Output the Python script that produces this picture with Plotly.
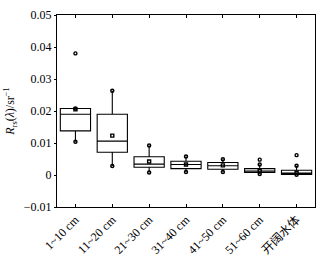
import plotly.graph_objects as go

categories = ["1~10 cm", "11~20 cm", "21~30 cm", "31~40 cm", "41~50 cm", "51~60 cm", "开阔水体"]
q1 = [0.0138, 0.0071, 0.0024, 0.0020, 0.0018, 0.0008, 0.0002]
median = [0.0190, 0.0106, 0.0034, 0.0033, 0.0029, 0.0012, 0.0006]
q3 = [0.0208, 0.0190, 0.0057, 0.0043, 0.0039, 0.0020, 0.0015]
lower = [0.0104, 0.0028, 0.0008, 0.0009, 0.0009, 0.0003, 0.0001]
upper = [0.0208, 0.0263, 0.0092, 0.0058, 0.0049, 0.0033, 0.0029]
means = [0.0205, 0.0123, 0.0042, 0.0033, 0.0030, 0.0013, 0.0007]
outlier_cat = ["1~10 cm", "51~60 cm", "开阔水体"]
outlier_val = [0.0380, 0.0048, 0.0062]

ytickvals = [-0.01, 0, 0.01, 0.02, 0.03, 0.04, 0.05]
yticktext = ["\u22120.01", "0", "0.01", "0.02", "0.03", "0.04", "0.05"]

font_family = "Liberation Serif, Times New Roman, Noto Sans CJK SC, serif"

fig = go.Figure()
fig.add_trace(go.Box(
    x=categories, q1=q1, median=median, q3=q3,
    lowerfence=lower, upperfence=upper,
    fillcolor="white", line=dict(color="black", width=1.1),
    whiskerwidth=0, width=0.82, boxpoints=False, showlegend=False,
))
# whisker end markers
fig.add_trace(go.Scatter(
    x=categories + categories, y=lower + upper, mode="markers",
    marker=dict(symbol="circle-open", size=3, color="black", line=dict(width=1.5)),
    showlegend=False,
))
# mean markers
fig.add_trace(go.Scatter(
    x=categories, y=means, mode="markers",
    marker=dict(symbol="square-open", size=3, color="black", line=dict(width=1.4)),
    showlegend=False,
))
# outliers
fig.add_trace(go.Scatter(
    x=outlier_cat, y=outlier_val, mode="markers",
    marker=dict(symbol="circle-open", size=3, color="black", line=dict(width=1.4)),
    showlegend=False,
))

fig.update_layout(
    width=336, height=258,
    margin=dict(l=57, r=21, t=15, b=51),
    paper_bgcolor="white", plot_bgcolor="white",
    font=dict(family=font_family, size=12, color="black"),
    xaxis=dict(
        type="category", categoryorder="array", categoryarray=categories,
        range=[-0.5, 6.5], showgrid=False, zeroline=False, automargin=False,
        showline=True, linecolor="black", linewidth=1.2, mirror="ticks",
        ticks="inside", ticklen=3, tickcolor="black", tickangle=-45,
        tickfont=dict(size=12, color="black"),
    ),
    yaxis=dict(
        range=[-0.01, 0.05], tickvals=ytickvals, ticktext=yticktext,
        showgrid=False, zeroline=False, automargin=False,
        showline=True, linecolor="black", linewidth=1.2, mirror=True,
        ticks="outside", ticklen=2, tickcolor="black",
        tickfont=dict(size=12, color="black"),
        title=dict(text="<i>R</i><sub>rs</sub>(<i>λ</i>)/sr<sup>−1</sup>",
                   font=dict(size=12, color="black"), standoff=6),
    ),
)

fig.write_html("out.html")
